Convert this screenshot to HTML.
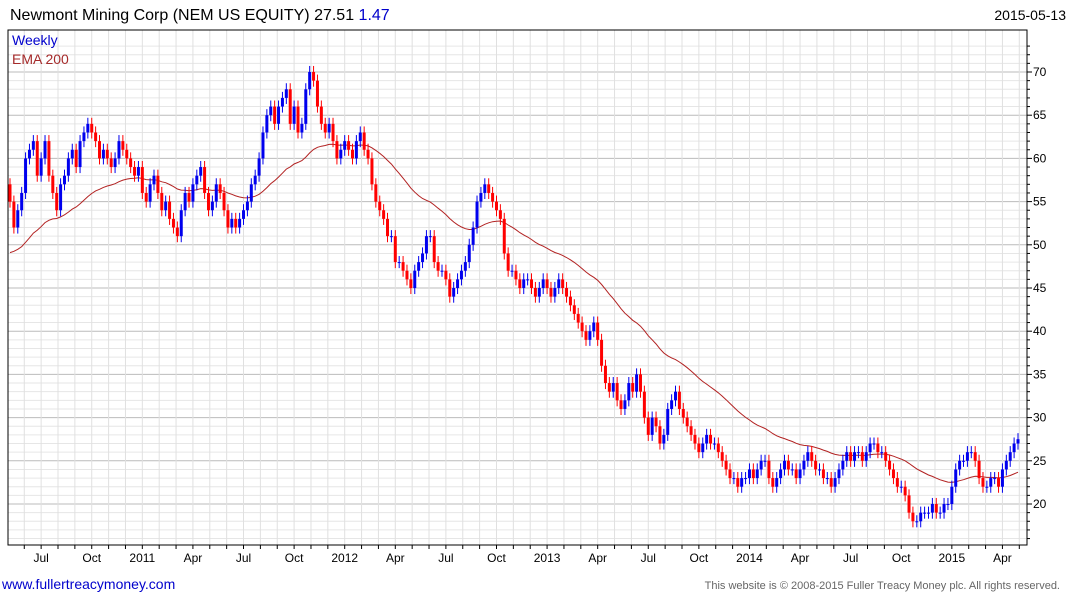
<!DOCTYPE html>
<html><head><meta charset="utf-8">
<style>
body{margin:0;background:#fff;font-family:"Liberation Sans",sans-serif;}
svg text{font-family:"Liberation Sans",sans-serif;}
</style></head>
<body>
<svg id="chart" width="1075" height="600" xmlns="http://www.w3.org/2000/svg">
<rect x="0" y="0" width="1075" height="600" fill="#fff"/>
<text x="10" y="20" font-size="16" fill="#000">Newmont Mining Corp (NEM US EQUITY) 27.51 <tspan fill="#0000cc">1.47</tspan></text>
<text x="1066" y="20" font-size="14" fill="#000" text-anchor="end">2015-05-13</text>
<g id="grid"></g>
<g id="ema"></g>
<g id="candles"></g>
<rect x="8" y="30" width="1019" height="515" fill="none" stroke="#000" stroke-width="1"/>
<g id="axes"></g>
<text x="12" y="45" font-size="14" fill="#0000cc">Weekly</text>
<text x="12" y="64" font-size="14" fill="#a52a2a">EMA 200</text>
<text x="2" y="589" font-size="14" fill="#0000cc">www.fullertreacymoney.com</text>
<text x="1060" y="589" font-size="11" fill="#666" text-anchor="end">This website is © 2008-2015 Fuller Treacy Money plc. All rights reserved.</text>
</svg>
<script>
const closes = [55,52,54,56,60,61,62,58,
60,62,58,56,54,57,58,60,61,59,62,63,64,
63,62,60,61,60,59,60,62,61,60,59,58,59,
56,55,57,58,56,54,55,53,52,51,54,56,55,
57,58,59,56,54,55,57,56,54,52,53,52,53,
54,55,57,58,60,63,65,66,64,66,67,68,64,
66,63,64,68,70,69,66,64,63,64,62,60,61,
62,61,60,62,63,61,60,57,55,54,53,51,51,
48,48,47,46,45,47,48,49,51,51,48,47,47,
46,44,45,46,47,48,50,52,55,56,57,56,55,
54,53,49,47,47,46,45,46,46,45,44,45,46,
45,44,45,46,45,44,43,42,41,40,39,40,41,
39,36,34,33,34,32,31,32,34,33,35,33,30,
28,30,29,27,28,31,32,33,31,30,29,28,27,
26,27,28,27,27,26,25,24,23,23,22,23,23,
24,23,24,25,25,23,22,23,24,25,24,24,23,
24,25,26,25,24,24,23,23,22,23,24,25,26,
25,26,26,25,26,27,27,26,26,25,24,23,22,
22,21,19,18,18,19,19,19,20,19,19,20,20,
22,24,25,25,26,26,25,23,22,22,23,23,22,
24,25,26,27,27.5];
const firstOpen = 57;
const emaSeed = 48.8;
const yTicks = [20,25,30,35,40,45,50,55,60,65,70];
const xLabels = ["Jul","Oct","2011","Apr","Jul","Oct","2012","Apr","Jul","Oct","2013","Apr","Jul","Oct","2014","Apr","Jul","Oct","2015","Apr"];
const xLabelWeeks = [8,21,34,47,60,73,86,99,112,125,138,151,164,177,190,203,216,229,242,255];

const NS="http://www.w3.org/2000/svg";
const L=8,R=1027,T=30,B=545;
const x0=10, step=(1018-10)/(closes.length-1);
const xs=i=>x0+i*step;
const ys=v=>504-(v-20)*8.64;
function mk(tag,attrs,parent){const e=document.createElementNS(NS,tag);for(const k in attrs)e.setAttribute(k,attrs[k]);parent.appendChild(e);return e;}
const grid=document.getElementById('grid'),axes=document.getElementById('axes'),cg=document.getElementById('candles'),eg=document.getElementById('ema');
for(let v=16;v<=73;v++){const y=ys(v);if(y<T||y>B)continue;
 const ln=mk('line',{x1:L,x2:R,y1:y,y2:y,stroke:v%5===0?'#bbb':'#e6e6e6','stroke-width':1},grid);
 
 
 mk('line',{x1:R,x2:R+(v%5===0?5:3),y1:y,y2:y,stroke:'#000'},axes);
}
for(let m=-2;m<64;m++){const x=xs(8)+m*(step*13/3);if(x<L||x>R)continue;
 const ln=mk('line',{x1:x,x2:x,y1:T,y2:B,stroke:'#e0e0e0','stroke-width':1},grid);
 
 
 mk('line',{x1:x,x2:x,y1:B,y2:B+4,stroke:'#000'},axes);
}
yTicks.forEach(v=>{const t=mk('text',{x:1033,y:ys(v)+4,'font-size':12,fill:'#000'},axes);t.textContent=v;
 
 });
xLabels.forEach((s,i)=>{const t=mk('text',{x:xs(xLabelWeeks[i]),y:562,'font-size':12,fill:'#000','text-anchor':'middle'},axes);t.textContent=s;
 
 });
let e=emaSeed;const a=2/41;let pts=[];
closes.forEach((c,i)=>{e=e+a*(c-e);pts.push(xs(i).toFixed(1)+','+ys(e).toFixed(1));});
const pl=mk('polyline',{points:pts.join(' '),fill:'none',stroke:'#b22222','stroke-width':1},eg);


closes.forEach((c,i)=>{const o=i===0?firstOpen:closes[i-1];const up=c>=o;const col=up?'#0000ee':'#ff0000';
 const x=xs(i);const hi=Math.max(o,c)+0.7,lo=Math.min(o,c)-0.7;
 const w=mk('line',{x1:x,x2:x,y1:ys(hi),y2:ys(lo),stroke:col,'stroke-width':1},cg);
 
 
 const top=ys(Math.max(o,c)),bot=ys(Math.min(o,c));
 const r=mk('rect',{x:x-1.5,y:top,width:3,height:Math.max(1,bot-top),fill:col},cg);
 
 
});
</script>
</body></html>
